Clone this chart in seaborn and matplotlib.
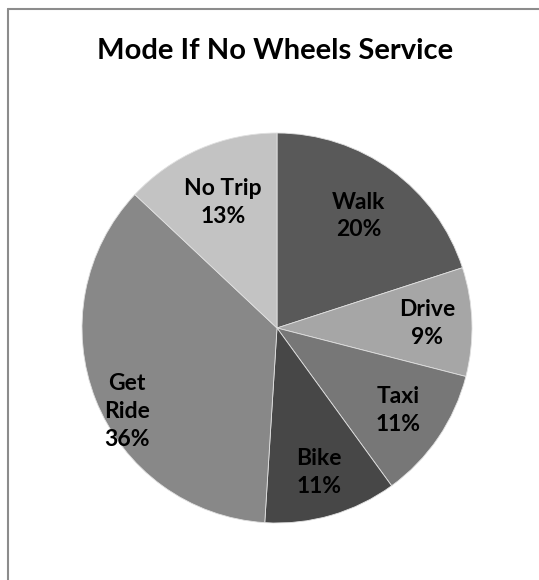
import matplotlib
matplotlib.use("Agg")
import matplotlib.pyplot as plt
import seaborn as sns
import numpy as np
from matplotlib.lines import Line2D

categories = ["Walk", "Drive", "Taxi", "Bike", "Get Ride", "No Trip"]
label_text = ["Walk", "Drive", "Taxi", "Bike", "Get\nRide", "No Trip"]
values = [20, 9, 11, 11, 36, 13]
colors = ["#595959", "#a6a6a6", "#777777", "#474747", "#888888", "#c3c3c3"]
label_radius = [0.71, 0.77, 0.75, 0.77, 0.88, 0.70]
label_angle_shift = [0, 0, 0, 0, 7.6, 0]
title = "Mode If No Wheels Service"

sns.set_theme(style="white")
plt.rcParams["font.family"] = ["Lato", "DejaVu Sans"]

fig = plt.figure(figsize=(5.39, 5.80), dpi=100)
ax = fig.add_axes([(277 - 195) / 539, (580 - 328 - 195) / 580, 390 / 539, 390 / 580])

wedges, _ = ax.pie(values, colors=colors, startangle=90, counterclock=False,
                   wedgeprops=dict(edgecolor="#e0e0e0", linewidth=0.6))
ax.set_xlim(-1, 1)
ax.set_ylim(-1, 1)
ax.set_aspect("equal")
ax.axis("off")

total = sum(values)
for w, lab, v, rf, sh in zip(wedges, label_text, values, label_radius, label_angle_shift):
    th = np.deg2rad((w.theta1 + w.theta2) / 2 + sh)
    x, y = rf * np.cos(th), rf * np.sin(th)
    ax.text(x, y, f"{lab}\n{round(100 * v / total)}%", ha="center", va="center",
            fontsize=16.5, fontweight="bold", color="black", linespacing=1.4)

fig.text(275.5 / 539, 1 - 59 / 580, title, ha="center", va="baseline",
         fontsize=21, fontweight="bold", color="black")

fig.add_artist(Line2D([8 / 539, 8 / 539], [0, 1 - 9 / 580], transform=fig.transFigure,
                      color="#8c8c8c", linewidth=1.5))
fig.add_artist(Line2D([8 / 539, 1], [1 - 9 / 580, 1 - 9 / 580], transform=fig.transFigure,
                      color="#8c8c8c", linewidth=1.5))

fig.savefig("out.png", dpi=100, facecolor="white")
